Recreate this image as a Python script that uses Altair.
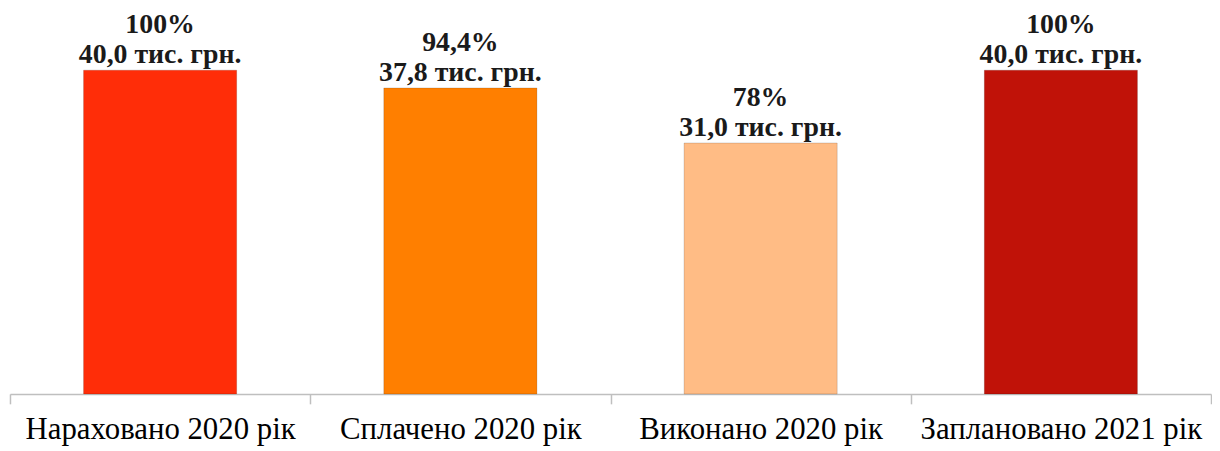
import altair as alt
import pandas as pd

categories = ["Нараховано 2020 рік", "Сплачено 2020 рік", "Виконано 2020 рік", "Заплановано 2021 рік"]
values = [40.0, 37.8, 31.0, 40.0]
percents = ["100%", "94,4%", "78%", "100%"]
value_labels = ["40,0 тис. грн.", "37,8 тис. грн.", "31,0 тис. грн.", "40,0 тис. грн."]
colors = ["#FF2D08", "#FF7F00", "#FFBC85", "#C01208"]

df = pd.DataFrame({
    "cat": categories,
    "val": values,
    "label": [p + "\n" + v for p, v in zip(percents, value_labels)],
    "color": colors,
})

x = alt.X("cat:N", sort=categories, title=None,
          scale=alt.Scale(paddingInner=0, paddingOuter=0),
          axis=alt.Axis(labelAngle=0, labelFont="Liberation Serif", labelFontSize=31,
                        labelColor="#000000", labelPadding=11, labelLimit=0,
                        domainColor="#BFBFBF", domainWidth=1.5,
                        tickColor="#BFBFBF", tickSize=10, tickWidth=1.5, tickBand="extent"))
y = alt.Y("val:Q", title=None, scale=alt.Scale(domain=[0, 47.5], nice=False),
          axis=None)

base = alt.Chart(df)
bars = base.mark_bar(strokeWidth=1, width=alt.RelativeBandSize(0.51)).encode(
    x=x, y=y,
    color=alt.Color("color:N", scale=None),
    stroke=alt.value("#00000026"),
)
labels = base.mark_text(baseline="alphabetic", dy=-37, lineBreak="\n", lineHeight=30,
                        font="Liberation Serif", fontSize=28, fontWeight="bold",
                        color="#1a1a1a").encode(x=x, y=y, text="label:N")

chart = (bars + labels).properties(
    width=1209, height=387,
    padding={"left": 1, "top": 0, "right": 0, "bottom": 0},
).configure_view(stroke=None)

chart.save("out.html", embed_options={"renderer": "svg", "actions": False})
